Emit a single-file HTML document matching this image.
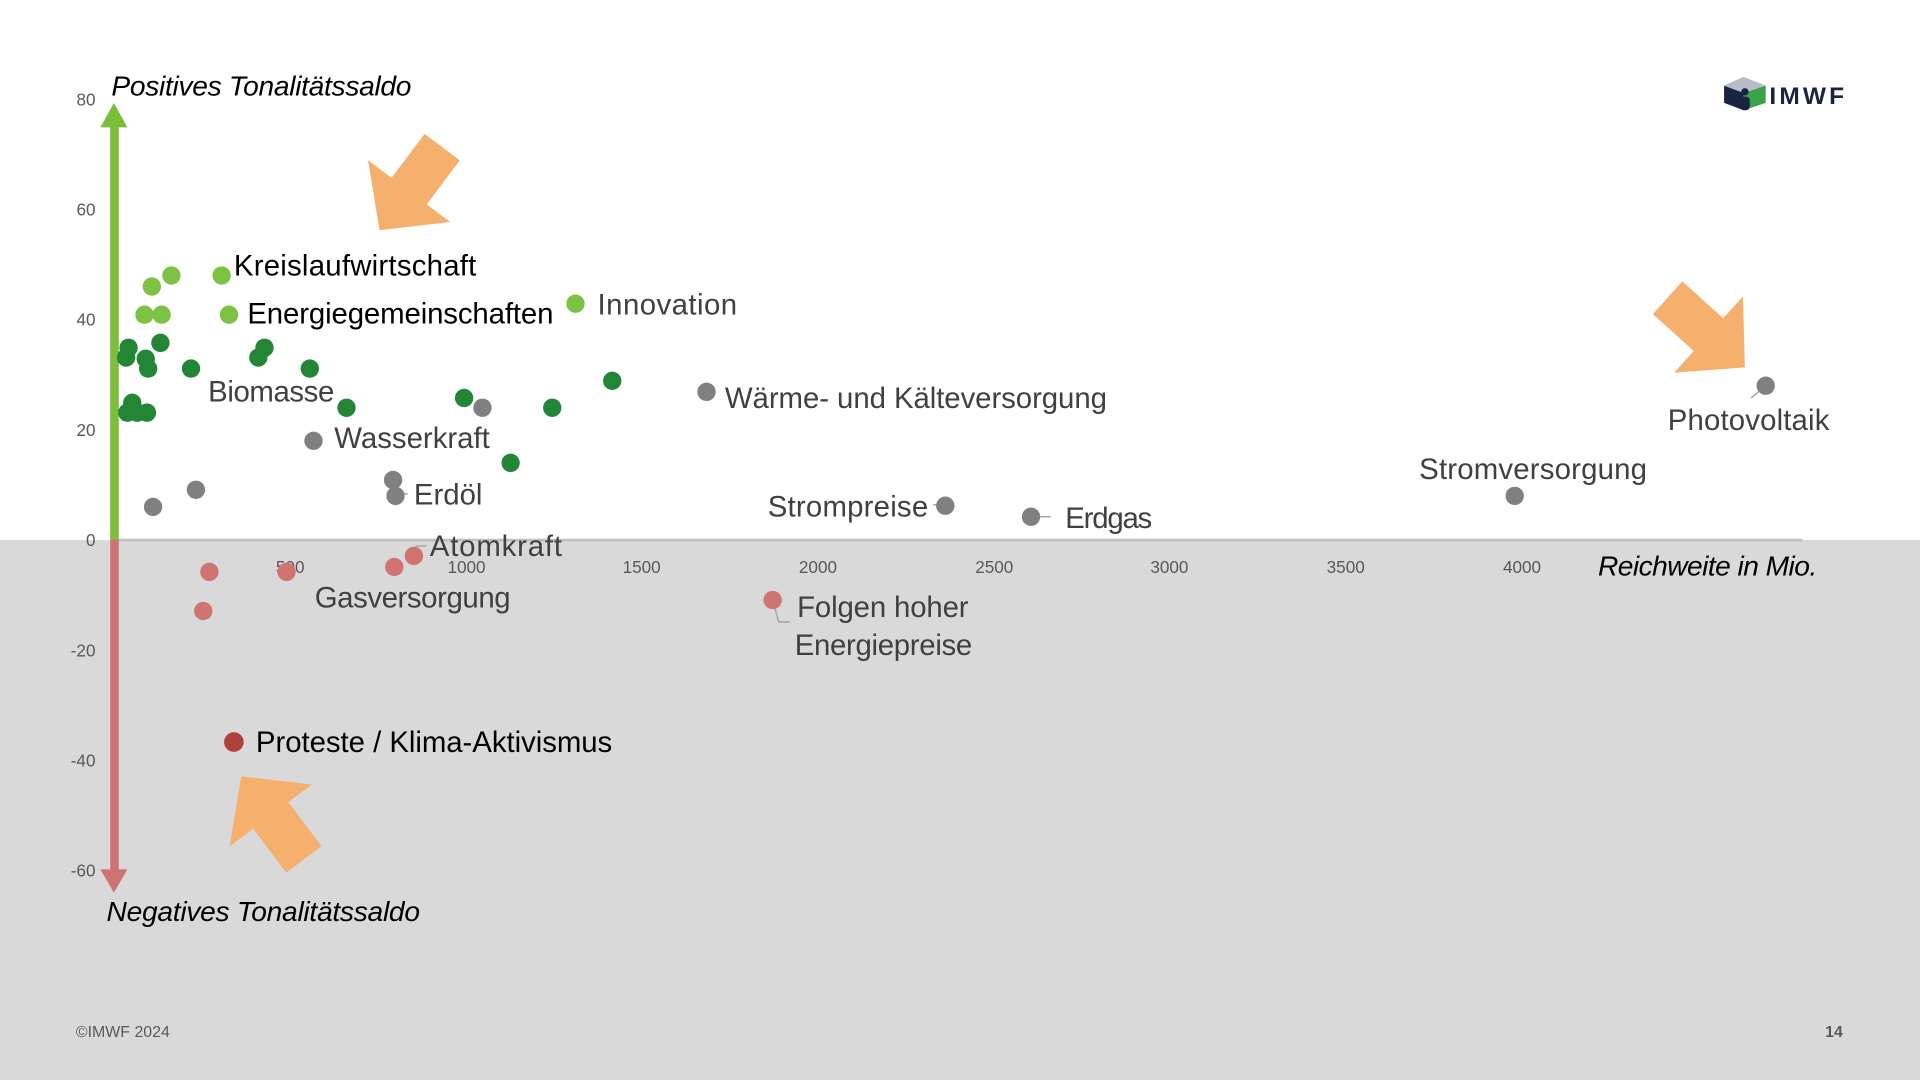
<!DOCTYPE html>
<html><head><meta charset="utf-8"><style>
html,body{margin:0;padding:0;width:1920px;height:1080px;overflow:hidden;background:#fff}
svg{display:block}
text{font-family:"Liberation Sans",sans-serif}
</style></head><body>
<svg width="1920" height="1080" viewBox="0 0 1568 882" xmlns="http://www.w3.org/2000/svg">
<rect x="0" y="0" width="1568" height="882" fill="#fff"/>
<rect x="0" y="441" width="1568" height="441" fill="#d9d9d9"/>
<line x1="93" y1="441" x2="1472" y2="441" stroke="#bfbfbf" stroke-width="2"/>
<g font-size="14" fill="#595959" text-anchor="end">
<text x="78" y="86">80</text><text x="78" y="176">60</text><text x="78" y="266">40</text><text x="78" y="356">20</text><text x="78" y="446">0</text><text x="78" y="536">-20</text><text x="78" y="626">-40</text><text x="78" y="716">-60</text>
</g>
<g font-size="14" fill="#595959" text-anchor="middle">
<text x="237" y="468">500</text><text x="381" y="468">1000</text><text x="524" y="468">1500</text><text x="668" y="468">2000</text><text x="812" y="468">2500</text><text x="955" y="468">3000</text><text x="1099" y="468">3500</text><text x="1243" y="468">4000</text>
</g>
<rect x="90" y="102" width="7" height="339" fill="#7cbd3a"/>
<polygon points="82,104 93,84 104,104" fill="#7cbd3a"/>
<rect x="90" y="441" width="7" height="270" fill="#cd7373"/>
<polygon points="82,710 93,729 104,710" fill="#cd7373"/>
<g font-size="23" font-style="italic" fill="#000">
<text x="91" y="78" textLength="245">Positives Tonalitätssaldo</text>
<text x="87" y="752" textLength="256">Negatives Tonalitätssaldo</text>
<text x="1305" y="470" textLength="179">Reichweite in Mio.</text>
</g>
<g fill="#f5b06e">
<polygon transform="translate(310,188) rotate(127)" points="-85,-18 -40,-18 -40,-42 0,0 -40,42 -40,18 -85,18"/>
<polygon transform="translate(1425,300) rotate(42)" points="-85,-18 -40,-18 -40,-42 0,0 -40,42 -40,18 -85,18"/>
<polygon transform="translate(197,634) rotate(233)" points="-85,-18 -40,-18 -40,-42 0,0 -40,42 -40,18 -85,18"/>
</g>
<g stroke="#a6a6a6" stroke-width="1.2" fill="none">
<line x1="323" y1="405" x2="333" y2="403"/>
<polyline points="338,454 340,446 348,446"/>
<line x1="772" y1="413" x2="762" y2="412"/>
<line x1="842" y1="422" x2="858" y2="422"/>
<line x1="1442" y1="315" x2="1430" y2="325"/>
<polyline points="631,490 636,508 645,508"/>
</g>
<g fill="#7dc242">
<circle cx="124" cy="234" r="7.5"/><circle cx="140" cy="225" r="7.5"/><circle cx="118" cy="257" r="7.5"/><circle cx="132" cy="257" r="7.5"/><circle cx="181" cy="225" r="7.5"/><circle cx="187" cy="257" r="7.5"/><circle cx="470" cy="248" r="7.5"/>
</g>
<g fill="#238636">
<circle cx="105" cy="284" r="7.5"/><circle cx="103" cy="292" r="7.5"/><circle cx="119" cy="293" r="7.5"/><circle cx="121" cy="301" r="7.5"/><circle cx="131" cy="280" r="7.5"/><circle cx="156" cy="301" r="7.5"/><circle cx="211" cy="292" r="7.5"/><circle cx="216" cy="284" r="7.5"/><circle cx="253" cy="301" r="7.5"/><circle cx="283" cy="333" r="7.5"/><circle cx="108" cy="329" r="7.5"/><circle cx="104" cy="337" r="7.5"/><circle cx="112" cy="337" r="7.5"/><circle cx="120" cy="337" r="7.5"/><circle cx="379" cy="325" r="7.5"/><circle cx="451" cy="333" r="7.5"/><circle cx="500" cy="311" r="7.5"/><circle cx="417" cy="378" r="7.5"/>
</g>
<g fill="#808080">
<circle cx="577" cy="320" r="7.5"/><circle cx="394" cy="333" r="7.5"/><circle cx="256" cy="360" r="7.5"/><circle cx="321" cy="392" r="7.5"/><circle cx="323" cy="405" r="7.5"/><circle cx="125" cy="414" r="7.5"/><circle cx="160" cy="400" r="7.5"/><circle cx="772" cy="413" r="7.5"/><circle cx="842" cy="422" r="7.5"/><circle cx="1237" cy="405" r="7.5"/><circle cx="1442" cy="315" r="7.5"/>
</g>
<g fill="#d07373">
<circle cx="171" cy="467" r="7.5"/><circle cx="166" cy="499" r="7.5"/><circle cx="234" cy="467" r="7.5"/><circle cx="322" cy="463" r="7.5"/><circle cx="338" cy="454" r="7.5"/><circle cx="631" cy="490" r="7.5"/>
</g>
<circle cx="191" cy="606" r="8" fill="#b0403a"/>
<g font-size="24" fill="#000">
<text x="191" y="225" textLength="198">Kreislaufwirtschaft</text>
<text x="202" y="264" textLength="250">Energiegemeinschaften</text>
<text x="209" y="614" textLength="291">Proteste / Klima-Aktivismus</text>
</g>
<g font-size="24" fill="#404040">
<text x="488" y="257" textLength="114">Innovation</text>
<text x="170" y="328" textLength="103">Biomasse</text>
<text x="273" y="366" textLength="127">Wasserkraft</text>
<text x="338" y="412" textLength="56">Erdöl</text>
<text x="351" y="454" textLength="108">Atomkraft</text>
<text x="257" y="496" textLength="160">Gasversorgung</text>
<text x="592" y="333" textLength="312">Wärme- und Kälteversorgung</text>
<text x="627" y="422" textLength="131">Strompreise</text>
<text x="870" y="431" textLength="71">Erdgas</text>
<text x="1159" y="391" textLength="186">Stromversorgung</text>
<text x="1362" y="351" textLength="132">Photovoltaik</text>
<text x="651" y="504" textLength="140">Folgen hoher</text>
<text x="649" y="535" textLength="145">Energiepreise</text>
</g>
<g transform="translate(1408,62)">
<polygon points="0,8 16,1 16,28 0,22" fill="#1a2440"/>
<polygon points="16,1 34,8 34,22 16,28" fill="#3aa24a"/>
<polygon points="0,8 16,1 34,8 16,14" fill="#b8bcc8"/>
<circle cx="17" cy="13" r="3" fill="#1a2440"/>
<rect x="13" y="17" width="8" height="11" rx="3" fill="#1a2440"/>
<text x="37" y="23" font-size="20" font-weight="bold" fill="#1a2440" textLength="61">IMWF</text>
</g>
<text x="62" y="847" font-size="13" fill="#595959">©IMWF 2024</text>
<text x="1505" y="847" font-size="13" font-weight="bold" fill="#595959" text-anchor="end">14</text>
</svg>
</body></html>
